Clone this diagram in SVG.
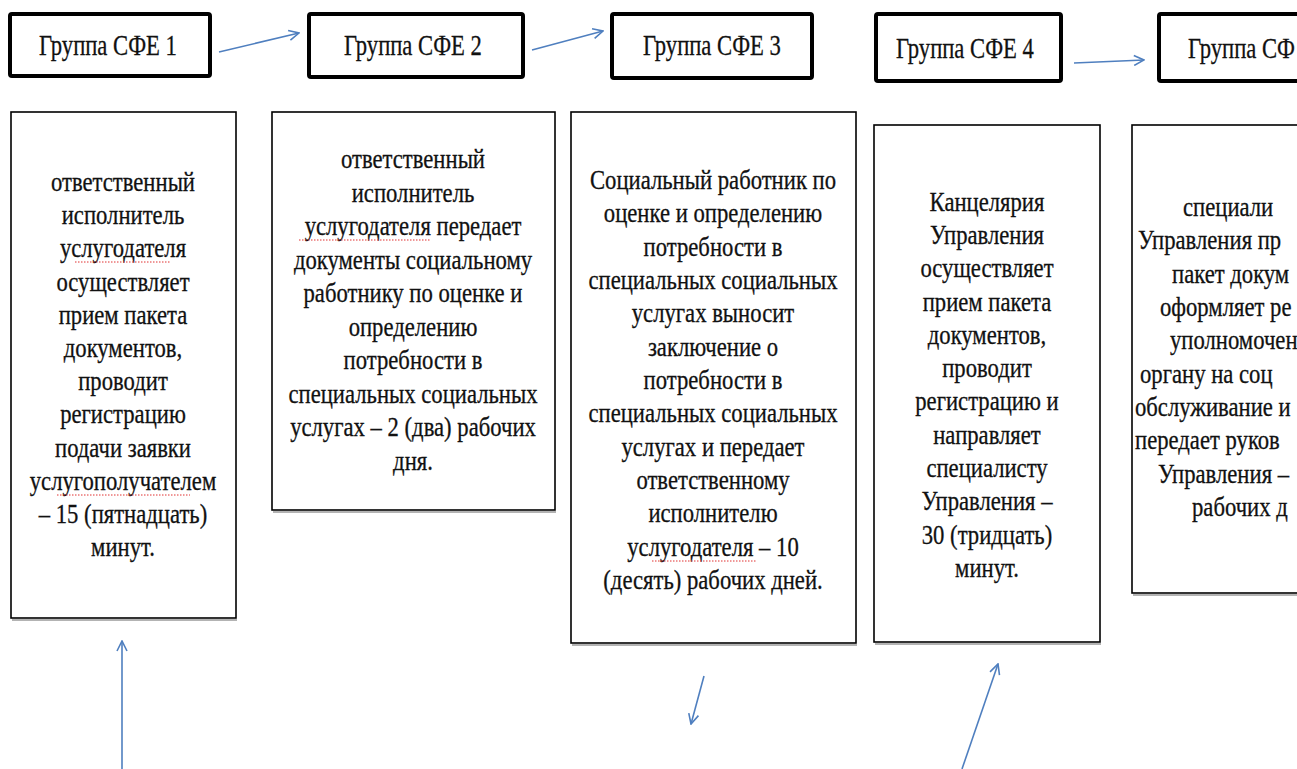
<svg xmlns="http://www.w3.org/2000/svg" width="1297" height="769" viewBox="0 0 1297 769">
  <style>
    .hdr { fill: #fff; stroke: #000; stroke-width: 4; }
    .box { fill: #fff; stroke: #000; stroke-width: 1.6; }
    .shadow { stroke: #9a9a9a; stroke-width: 1.5; fill: none; }
    .ht { font-family: "Liberation Serif", "Times New Roman", serif; font-size: 30px; fill: #111; stroke: #111; stroke-width: 0.3; text-anchor: middle; }
    .bt { font-family: "Liberation Serif", "Times New Roman", serif; font-size: 27px; fill: #111; stroke: #111; stroke-width: 0.3; text-anchor: middle; }
    .bs { font-family: "Liberation Serif", "Times New Roman", serif; font-size: 27px; fill: #111; stroke: #111; stroke-width: 0.3; text-anchor: start; }
    .conn { stroke: #4f7fbf; stroke-width: 1.6; fill: none; }
    .squig { stroke: #e03030; stroke-width: 1; fill: none; stroke-dasharray: 1.5 1.5; }
  </style>
  <defs>
    <marker id="open" viewBox="0 0 12 12" refX="11" refY="6" markerWidth="12" markerHeight="12" markerUnits="userSpaceOnUse" orient="auto">
      <path d="M1,1 L11,6 L1,11" fill="none" stroke="#4f7fbf" stroke-width="1.6"/>
    </marker>
  </defs>
  <rect width="1297" height="769" fill="#fff"/>

  <!-- header row -->
  <g id="sfe1">
    <rect class="hdr" x="10" y="14" width="200" height="62" rx="2"/>
    <text class="ht" transform="translate(108,55) scale(0.755,1)">Группа СФЕ 1</text>
  </g>
  <g id="sfe2">
    <rect class="hdr" x="309" y="14" width="214" height="63" rx="2"/>
    <text class="ht" transform="translate(413,55) scale(0.755,1)">Группа СФЕ 2</text>
  </g>
  <g id="sfe3">
    <rect class="hdr" x="612" y="14" width="200" height="64" rx="2"/>
    <text class="ht" transform="translate(712,55) scale(0.755,1)">Группа СФЕ 3</text>
  </g>
  <g id="sfe4">
    <rect class="hdr" x="876" y="14" width="185" height="67" rx="2"/>
    <text class="ht" transform="translate(965,58) scale(0.755,1)">Группа СФЕ 4</text>
  </g>
  <g id="sfe5">
    <rect class="hdr" x="1159" y="14" width="200" height="67" rx="2"/>
    <text class="ht" style="text-anchor:start" transform="translate(1188,58) scale(0.755,1)">Группа СФ</text>
  </g>

  <!-- step A -->
  <g id="stepA">
    <rect class="box" x="11" y="112" width="225" height="506"/>
    <line class="shadow" x1="12" y1="620" x2="237" y2="620"/>
    <g class="bt">
      <text transform="translate(123,191) scale(0.84,1)">ответственный</text>
      <text transform="translate(123,224) scale(0.84,1)">исполнитель</text>
      <text transform="translate(123,257) scale(0.84,1)">услугодателя</text>
      <text transform="translate(123,291) scale(0.84,1)">осуществляет</text>
      <text transform="translate(123,324) scale(0.84,1)">прием пакета</text>
      <text transform="translate(123,357) scale(0.84,1)">документов,</text>
      <text transform="translate(123,390) scale(0.84,1)">проводит</text>
      <text transform="translate(123,423) scale(0.84,1)">регистрацию</text>
      <text transform="translate(123,457) scale(0.84,1)">подачи заявки</text>
      <text transform="translate(123,490) scale(0.84,1)">услугополучателем</text>
      <text transform="translate(123,523) scale(0.84,1)">– 15 (пятнадцать)</text>
      <text transform="translate(123,556) scale(0.84,1)">минут.</text>
    </g>
    <path class="squig" d="M75,262 H171"/>
    <path class="squig" d="M57,495 H190"/>
  </g>

  <!-- step B -->
  <g id="stepB">
    <rect class="box" x="272" y="112" width="283" height="398"/>
    <line class="shadow" x1="273" y1="512" x2="556" y2="512"/>
    <g class="bt">
      <text transform="translate(413,168) scale(0.84,1)">ответственный</text>
      <text transform="translate(413,202) scale(0.84,1)">исполнитель</text>
      <text transform="translate(413,235) scale(0.84,1)">услугодателя передает</text>
      <text transform="translate(413,269) scale(0.84,1)">документы социальному</text>
      <text transform="translate(413,302) scale(0.84,1)">работнику по оценке и</text>
      <text transform="translate(413,336) scale(0.84,1)">определению</text>
      <text transform="translate(413,369) scale(0.84,1)">потребности в</text>
      <text transform="translate(413,403) scale(0.84,1)">специальных социальных</text>
      <text transform="translate(413,436) scale(0.84,1)">услугах – 2 (два) рабочих</text>
      <text transform="translate(413,470) scale(0.84,1)">дня.</text>
    </g>
    <path class="squig" d="M299,240 H431"/>
  </g>

  <!-- step C -->
  <g id="stepC">
    <rect class="box" x="571" y="112" width="285" height="531"/>
    <line class="shadow" x1="572" y1="645" x2="857" y2="645"/>
    <g class="bt">
      <text transform="translate(713,189) scale(0.84,1)">Социальный работник по</text>
      <text transform="translate(713,222) scale(0.84,1)">оценке и определению</text>
      <text transform="translate(713,256) scale(0.84,1)">потребности в</text>
      <text transform="translate(713,289) scale(0.84,1)">специальных социальных</text>
      <text transform="translate(713,322) scale(0.84,1)">услугах выносит</text>
      <text transform="translate(713,356) scale(0.84,1)">заключение о</text>
      <text transform="translate(713,389) scale(0.84,1)">потребности в</text>
      <text transform="translate(713,422) scale(0.84,1)">специальных социальных</text>
      <text transform="translate(713,456) scale(0.84,1)">услугах и передает</text>
      <text transform="translate(713,489) scale(0.84,1)">ответственному</text>
      <text transform="translate(713,522) scale(0.84,1)">исполнителю</text>
      <text transform="translate(713,556) scale(0.84,1)">услугодателя – 10</text>
      <text transform="translate(713,589) scale(0.84,1)">(десять) рабочих дней.</text>
    </g>
    <path class="squig" d="M652,561 H756"/>
  </g>

  <!-- step D -->
  <g id="stepD">
    <rect class="box" x="874" y="125" width="226" height="517"/>
    <line class="shadow" x1="875" y1="644" x2="1101" y2="644"/>
    <g class="bt">
      <text transform="translate(987,211) scale(0.84,1)">Канцелярия</text>
      <text transform="translate(987,244) scale(0.84,1)">Управления</text>
      <text transform="translate(987,277) scale(0.84,1)">осуществляет</text>
      <text transform="translate(987,311) scale(0.84,1)">прием пакета</text>
      <text transform="translate(987,344) scale(0.84,1)">документов,</text>
      <text transform="translate(987,377) scale(0.84,1)">проводит</text>
      <text transform="translate(987,410) scale(0.84,1)">регистрацию и</text>
      <text transform="translate(987,444) scale(0.84,1)">направляет</text>
      <text transform="translate(987,477) scale(0.84,1)">специалисту</text>
      <text transform="translate(987,510) scale(0.84,1)">Управления –</text>
      <text transform="translate(987,544) scale(0.84,1)">30 (тридцать)</text>
      <text transform="translate(987,577) scale(0.84,1)">минут.</text>
    </g>
  </g>

  <!-- step E -->
  <g id="stepE">
    <rect class="box" x="1132" y="125" width="200" height="468"/>
    <line class="shadow" x1="1133" y1="595" x2="1297" y2="595"/>
    <g class="bs">
      <text transform="translate(1183,216) scale(0.84,1)">специали</text>
      <text transform="translate(1138,249) scale(0.84,1)">Управления пр</text>
      <text transform="translate(1172,283) scale(0.84,1)">пакет докум</text>
      <text transform="translate(1160,316) scale(0.84,1)">оформляет ре</text>
      <text transform="translate(1170,349) scale(0.84,1)">уполномочен</text>
      <text transform="translate(1140,383) scale(0.84,1)">органу на соц</text>
      <text transform="translate(1135,416) scale(0.84,1)">обслуживание и</text>
      <text transform="translate(1135,449) scale(0.84,1)">передает руков</text>
      <text transform="translate(1158,483) scale(0.84,1)">Управления –</text>
      <text transform="translate(1192,516) scale(0.84,1)">рабочих д</text>
    </g>
  </g>

  <!-- connectors -->
  <g id="connectors">
    <line class="conn" x1="219" y1="52" x2="299" y2="33" marker-end="url(#open)"/>
    <line class="conn" x1="532" y1="50" x2="603" y2="31" marker-end="url(#open)"/>
    <line class="conn" x1="1074" y1="63" x2="1144" y2="60" marker-end="url(#open)"/>
    <line class="conn" x1="122" y1="769" x2="122" y2="641" marker-end="url(#open)"/>
    <line class="conn" x1="704" y1="676" x2="691" y2="724" marker-end="url(#open)"/>
    <line class="conn" x1="962" y1="769" x2="998" y2="664" marker-end="url(#open)"/>
  </g>
</svg>
